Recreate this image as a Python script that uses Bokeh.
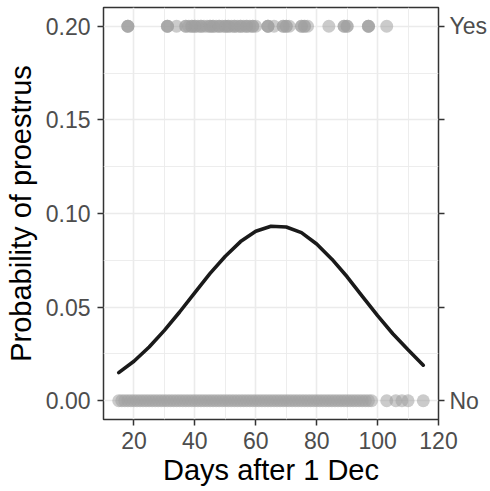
from bokeh.plotting import figure
from bokeh.models import LinearAxis, FixedTicker, Range1d
from bokeh.embed import file_html
from bokeh.resources import INLINE

# ---- data ----
yes_days = [18, 18, 18, 31, 31, 31, 34, 37, 37, 38, 39, 39, 40, 40, 41, 42, 42,
            43, 44, 45, 45, 46, 46, 47, 48, 48, 49, 50, 50, 51, 51, 52, 53, 53,
            54, 55, 55, 56, 57, 57, 58, 59, 59, 60, 64, 64, 64, 66, 69, 69, 70,
            70, 71, 75, 75, 76, 76, 77, 84, 89, 89, 90, 90, 97, 97, 97, 103]
no_days = [15, 16, 17, 18, 19, 20, 21, 22, 23, 24, 25, 26, 27, 28, 29, 30, 31,
           32, 33, 34, 35, 36, 37, 38, 39, 40, 41, 42, 43, 44, 45, 46, 47, 48,
           49, 50, 51, 52, 53, 54, 55, 56, 57, 58, 59, 60, 61, 62, 63, 64, 65,
           66, 67, 68, 69, 70, 71, 72, 73, 74, 75, 76, 77, 78, 79, 80, 81, 82,
           83, 84, 85, 86, 87, 88, 89, 90, 91, 92, 93, 94, 95, 96, 97, 98,
           103, 106, 108, 110, 115]
yes_level = 0.20
no_level = 0.00

curve_days = [15, 20, 25, 30, 35, 40, 45, 50, 55, 60, 65, 70, 75, 80, 85, 90,
              95, 100, 105, 110, 115]
curve_prob = [0.0150, 0.0211, 0.0287, 0.0376, 0.0474, 0.0578, 0.0680, 0.0772,
              0.0850, 0.0905, 0.0932, 0.0928, 0.0898, 0.0837, 0.0756, 0.0662,
              0.0558, 0.0455, 0.0358, 0.0272, 0.0190]

x_ticks = [20, 40, 60, 80, 100, 120]
x_minor = [10, 30, 50, 70, 90, 110]
y_ticks = [0.0, 0.05, 0.10, 0.15, 0.20]
y_minor = [0.025, 0.075, 0.125, 0.175]
y_labels = ["0.00", "0.05", "0.10", "0.15", "0.20"]
right_labels = ["No", "", "", "", "Yes"]

FONT = "Liberation Sans"
DARK = "#333333"

p = figure(width=490, height=491, output_backend="svg", toolbar_location=None,
           x_range=Range1d(10, 120), y_range=Range1d(-0.01, 0.21),
           min_border_left=103, min_border_right=52, min_border_top=7,
           min_border_bottom=72)
p.background_fill_color = "white"
p.border_fill_color = "white"
p.outline_line_color = DARK
p.outline_line_width = 1.5

# grids
p.xaxis.ticker = FixedTicker(ticks=x_ticks, minor_ticks=x_minor)
p.yaxis.ticker = FixedTicker(ticks=y_ticks, minor_ticks=y_minor)
for g in (p.xgrid, p.ygrid):
    g.grid_line_color = "#EBEBEB"
    g.grid_line_width = 1.6
    g.minor_grid_line_color = "#EBEBEB"
    g.minor_grid_line_width = 0.9

# glyphs
p.scatter(x=no_days, y=[no_level] * len(no_days), size=13,
          fill_color="#A0A0A0", fill_alpha=0.55, line_color=None)
p.scatter(x=yes_days, y=[yes_level] * len(yes_days), size=13,
          fill_color="#A0A0A0", fill_alpha=0.55, line_color=None)
p.line(x=curve_days, y=curve_prob, line_color="#1A1A1A", line_width=3.6,
       line_cap="round", line_join="round")

# right axis
raxis = LinearAxis(ticker=FixedTicker(ticks=y_ticks))
p.add_layout(raxis, "right")

xaxis = p.below[0]
laxis = p.left[0]

for ax in (xaxis, laxis, raxis):
    ax.axis_line_color = None
    ax.major_tick_line_color = DARK
    ax.major_tick_line_width = 1.5
    ax.major_tick_in = 0
    ax.major_tick_out = 6
    ax.minor_tick_line_color = None
    ax.major_label_text_font = FONT
    ax.major_label_text_font_size = "23px"
    ax.major_label_text_color = "#4D4D4D"
    ax.axis_label_text_font = FONT
    ax.axis_label_text_font_style = "normal"
    ax.axis_label_text_font_size = "29px"
    ax.axis_label_text_color = "#000000"

xaxis.axis_label = "Days after 1 Dec"
xaxis.major_label_standoff = 6
xaxis.axis_label_standoff = 2

laxis.axis_label = "Probability of proestrus"
laxis.major_label_overrides = dict(zip(y_ticks, y_labels))
laxis.major_label_standoff = 7
laxis.axis_label_standoff = 6

raxis.major_label_overrides = dict(zip(y_ticks, right_labels))
raxis.major_label_standoff = 5

open("out.html", "w").write(file_html(p, INLINE))
